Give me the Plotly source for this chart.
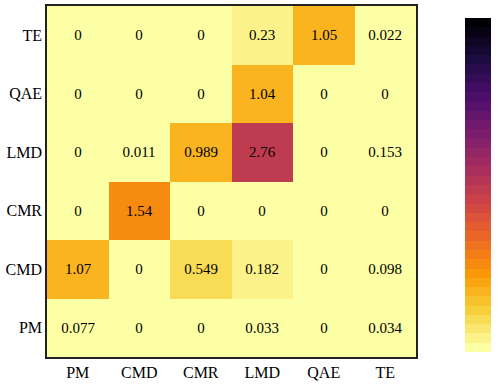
import plotly.graph_objects as go
from plotly.colors import sample_colorscale, sequential

# categories (y goes bottom -> top)
x_labels = ["PM", "CMD", "CMR", "LMD", "QAE", "TE"]
y_labels = ["PM", "CMD", "CMR", "LMD", "QAE", "TE"]

# values, one list per row (row = y category)
row_pm = [0.077, 0, 0, 0.033, 0, 0.034]
row_cmd = [1.07, 0, 0.549, 0.182, 0, 0.098]
row_cmr = [0, 1.54, 0, 0, 0, 0]
row_lmd = [0, 0.011, 0.989, 2.76, 0, 0.153]
row_qae = [0, 0, 0, 1.04, 0, 0]
row_te = [0, 0, 0, 0.23, 1.05, 0.022]

z = [row_pm, row_cmd, row_cmr, row_lmd, row_qae, row_te]

# stepped inferno (reversed) so the colour bar shows bands like the original
n_steps = 36
scale = []
for i in range(n_steps):
    c = sample_colorscale(sequential.Inferno_r, i / (n_steps - 1))[0]
    scale.append([i / n_steps, c])
    scale.append([(i + 1) / n_steps, c])

serif = "Liberation Serif"

fig = go.Figure(go.Heatmap(
    x=x_labels, y=y_labels, z=z,
    colorscale=scale, zmin=0, zmax=5.8,
    texttemplate="%{z}",
    textfont=dict(family=serif, size=15, color="black"),
    hoverongaps=False,
    colorbar=dict(
        showticklabels=False, ticks="",
        thickness=26, outlinewidth=0,
        xanchor="left", x=1.133, xpad=0,
        yanchor="middle", y=0.49, len=0.952, ypad=0,
    ),
))

axis_style = dict(
    showline=True, mirror=True, linecolor="#222", linewidth=1.5,
    ticks="", showgrid=False, zeroline=False,
    tickfont=dict(family=serif, size=16, color="black"),
)
fig.update_xaxes(**axis_style)
fig.update_yaxes(**axis_style)

fig.update_layout(
    width=498, height=385,
    margin=dict(l=47, r=82, t=4, b=27),
    plot_bgcolor="white", paper_bgcolor="white",
    font=dict(family=serif),
)

# no page margin, so the figure sits at the window's corner
fig.write_html("out.html", config={"displayModeBar": False},
               post_script="document.body.style.margin='0';")
